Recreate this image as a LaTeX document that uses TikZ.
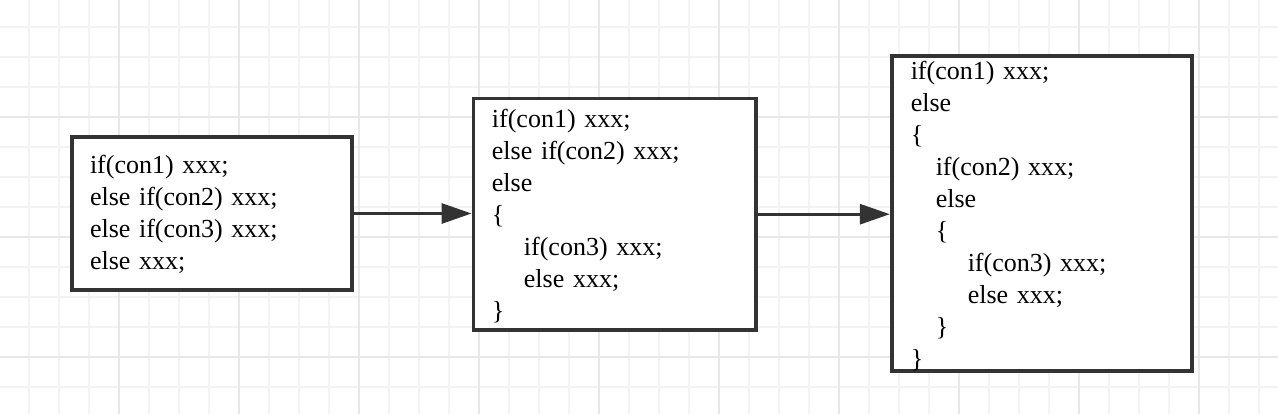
\documentclass[tikz,border=0pt]{standalone}
\usepackage{fontspec}
\setmainfont{Liberation Serif}
\usetikzlibrary{arrows.meta}
\definecolor{gridminor}{RGB}{243,243,243}
\definecolor{gridmajor}{RGB}{232,232,232}
\definecolor{edge}{RGB}{51,51,51}
\begin{document}
\begin{tikzpicture}[x=1pt,y=-1pt,
  codebox/.style={draw=edge, line width=3.8pt, fill=white, align=left,
    inner ysep=0pt, font=\fontsize{26}{32}\selectfont, anchor=center},
  flow/.style={draw=edge, line width=3pt, -{Triangle[length=30pt,width=20pt]}},
  gminor/.style={draw=gridminor, line width=2pt},
  gmajor/.style={draw=gridmajor, line width=2pt}]
\fill[white] (0,0) rectangle (1278,414);
\useasboundingbox (0,0) rectangle (1278,414);
% grid
\foreach \i in {0,...,41} \draw[gminor] ({29+30*\i},0) -- ({29+30*\i},414);
\foreach \i in {0,...,12} \draw[gminor] (0,{26.7+30*\i}) -- (1278,{26.7+30*\i});
\foreach \i in {0,...,9} \draw[gmajor] ({119+120*\i},0) -- ({119+120*\i},414);
\foreach \i in {0,...,2} \draw[gmajor] (0,{116.7+120*\i}) -- (1278,{116.7+120*\i});
% boxes
\node[codebox, text width=244pt, inner xsep=18.25pt, minimum height=153.2pt] (b1) at (212,213.5)
  {\rule{0pt}{20pt}if(con1) xxx;\\else if(con2) xxx;\\else if(con3) xxx;\\else xxx;};
\node[codebox, text width=245.5pt, inner xsep=18.5pt, minimum height=231.2pt] (b2) at (614.7,214.2)
  {\rule{0pt}{22pt}if(con1) xxx;\\else if(con2) xxx;\\else\\\{\\\hspace*{32pt}if(con3) xxx;\\\hspace*{32pt}else xxx;\\\}};
\node[codebox, text width=262pt, inner xsep=19pt, minimum height=315.2pt] (b3) at (1041.75,213.5)
  {\rule{0pt}{24pt}if(con1) xxx;\\else\\\{\\\hspace*{25pt}if(con2) xxx;\\\hspace*{25pt}else\\\hspace*{25pt}\{\\\hspace*{57pt}if(con3) xxx;\\\hspace*{57pt}else xxx;\\\hspace*{25pt}\}\\\}};
% connectors
\draw[flow] (b1.east) -- (b1.east -| b2.west);
\draw[flow] (b2.east) -- (b2.east -| b3.west);
\end{tikzpicture}
\end{document}
